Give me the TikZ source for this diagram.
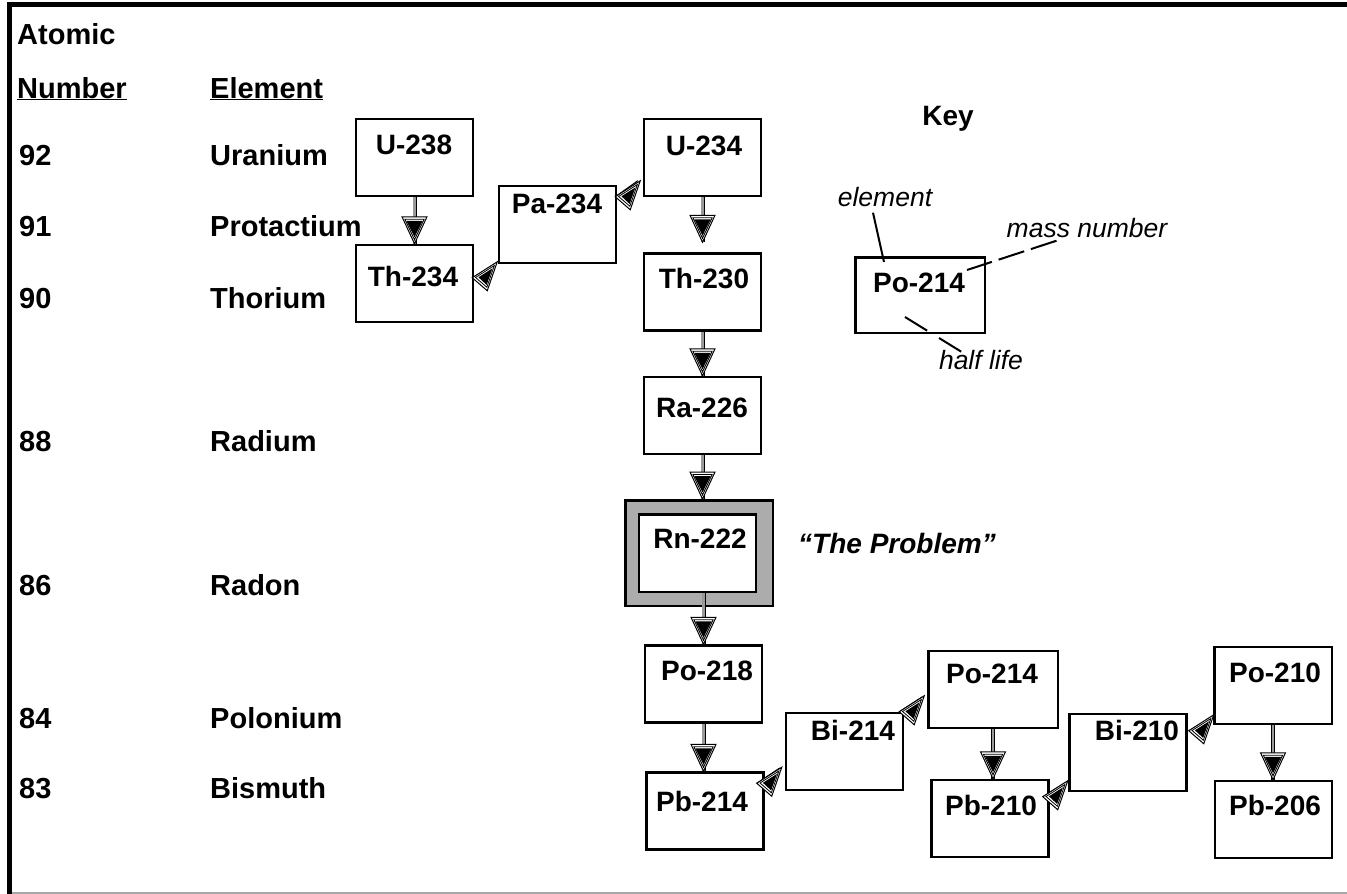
\documentclass[tikz,border=0pt]{standalone}
\usepackage{fontspec}
\setmainfont{Liberation Sans}
\usetikzlibrary{calc,decorations.markings}
\newcommand\decayhead[1]{%
  \begin{scope}[shift={(#1)}]
    \draw[line width=1pt, fill=white] (0,0) -- (25,-16) -- (15,13) -- cycle;
    \draw[line width=0.8pt] (3.3,-0.25) -- (22.1,-12.25) -- (14.6,9.5) -- cycle;
    \fill (6.2,-0.45) -- (20.2,-9.4) -- (14.4,7.2) -- cycle;
  \end{scope}}
\begin{document}
\begin{tikzpicture}[x=1pt,y=-1pt,
  box/.style={draw=black, line width=2.5pt, fill=white, minimum width=117pt, minimum height=77pt, inner sep=0pt},
  iso/.style={font=\fontsize{28}{30}\selectfont\bfseries, inner sep=0pt, text height=20.4pt, text depth=0pt},
  hdr/.style={font=\fontsize{29}{31}\selectfont\bfseries, anchor=west, inner sep=0pt, text height=21pt, text depth=0pt},
  keylbl/.style={font=\fontsize{26.5}{28}\selectfont\itshape, inner sep=0pt, text height=19pt, text depth=0pt},
  decay/.style={draw=black, line width=0.9pt, double=gray!80, double distance=2.2pt,
    postaction={decorate, decoration={markings, mark=at position 1 with {
      \draw[black, line width=1pt, fill=white] (0,0) -- (-27,12.5) -- (-27,-12.5) -- cycle;
      \draw[black, line width=0.9pt] (-4,0) -- (-24.5,9.6) -- (-24.5,-9.6) -- cycle;
      \fill[black] (-6.5,0) -- (-23,8.2) -- (-23,-8.2) -- cycle;}}}},
  decayd/.style={draw=black, line width=1pt},
  leader/.style={draw=black, line width=2pt}
]
\useasboundingbox (0,0) rectangle (1347,894);
% frame
\draw[line width=5pt] (7,4.5) -- (1347,4.5);
\draw[line width=5pt] (9.5,2) -- (9.5,894);
\draw[gray!70, line width=1.2pt] (12,893) -- (1347,893);

% headers
\node[hdr] (hatomic) at (17,34) {Atomic};
\node[hdr] (hnumber) at (17,87.5) {\underline{Number}};
\node[hdr] (helement) at (210,87.5) {\underline{Element}};
\node[hdr] (z92) at (19,155) {92};
\node[hdr] (e92) at (210,155) {Uranium};
\node[hdr] (z91) at (19,226) {91};
\node[hdr] (e91) at (210,226) {Protactium};
\node[hdr] (z90) at (19,298) {90};
\node[hdr] (e90) at (210,298) {Thorium};
\node[hdr] (z88) at (19,441) {88};
\node[hdr] (e88) at (210,441) {Radium};
\node[hdr] (z86) at (19,585) {86};
\node[hdr] (e86) at (210,585) {Radon};
\node[hdr] (z84) at (19,718) {84};
\node[hdr] (e84) at (210,718) {Polonium};
\node[hdr] (z83) at (19,788) {83};
\node[hdr] (e83) at (210,788) {Bismuth};

% boxes
\node[box] (u238) at (414.5,157.5) {};
\node[box] (th234) at (414.5,283.5) {};
\node[box] (pa234) at (557.5,224.5) {};
\node[box] (u234) at (702.5,157.5) {};
\node[box] (th230) at (702.5,292) {};
\node[box] (ra226) at (702.5,415.5) {};
\node[draw=black, line width=2.5pt, fill=gray!65, minimum width=147.5pt, minimum height=105.5pt, inner sep=0pt] (rn222) at (699,553) {};
\node[box, minimum height=77.5pt] (rn222in) at (697.5,553) {};
\node[box] (po218) at (703.5,684) {};
\node[box] (pb214) at (705,811) {};
\node[box] (bi214) at (844.5,751.5) {};
\node[box, minimum width=129.5pt] (po214) at (993,689.5) {};
\node[box] (pb210) at (990,818.5) {};
\node[box] (bi210) at (1128,752.5) {};
\node[box, minimum width=117.5pt] (po210) at (1273,685.5) {};
\node[box] (pb206) at (1273.5,819.5) {};
\node[box, minimum width=129.5pt, minimum height=75.5pt] (keybox) at (920,295) {};

% box labels
\node[iso] (tu238) at (414,144) {U-238};
\node[iso] (tth234) at (413,276) {Th-234};
\node[iso] (tpa234) at (557,203) {Pa-234};
\node[iso] (tu234) at (704,145) {U-234};
\node[iso] (tth230) at (704,278) {Th-230};
\node[iso] (tra226) at (702,407) {Ra-226};
\node[iso] (trn222) at (700,538) {Rn-222};
\node[iso] (tpo218) at (707,670) {Po-218};
\node[iso] (tpb214) at (702,801) {Pb-214};
\node[iso] (tbi214) at (853,730) {Bi-214};
\node[iso] (tpo214) at (992,673) {Po-214};
\node[iso] (tpb210) at (991,805) {Pb-210};
\node[iso] (tbi210) at (1137,730) {Bi-210};
\node[iso] (tpo210) at (1275,672) {Po-210};
\node[iso] (tpb206) at (1275,805) {Pb-206};
\node[iso] (tkey) at (919,282) {Po-214};

% vertical decays
\draw[decay] (u238.south) -- (u238.south |- th234.north);
\draw[decay] (u234.south) -- ([yshift=10pt]th230.north);
\draw[decay] (th230.south) -- (ra226.north);
\draw[decay] (ra226.south) -- (ra226.south |- rn222.north);
\draw[decay] (po218.north |- rn222in.south) -- (po218.north);
\draw[decay] (po218.south) -- (po218.south |- pb214.north);
\draw[decay] (po214.south) -- (po214.south |- pb210.north);
\draw[decay] (po210.south) -- (po210.south |- pb206.north);

% diagonal decays
\coordinate (d1s) at ($(u234.north west)+(-5,63)$);
\coordinate (d1t) at ($(pa234.north east)+(-2,12)$);
\coordinate (d2s) at ($(pa234.south west)+(-3,1)$);
\coordinate (d2t) at ($(th234.north east)+(-2,34)$);
\coordinate (d3s) at ($(po214.west)+(-5,7.5)$);
\coordinate (d3t) at ($(bi214.north east)+(-5,0)$);
\coordinate (d4s) at ($(bi214.west)+(-5,16.5)$);
\coordinate (d4t) at ($(pb214.north east)+(-8,12)$);
\coordinate (d5s) at ($(bi210.west)+(-2,29.5)$);
\coordinate (d5t) at ($(pb210.north east)+(-7,18)$);
\coordinate (d6s) at ($(po210.south west)+(-1,-8)$);
\coordinate (d6t) at ($(bi210.north east)+(1,18)$);
\foreach \i in {1,...,6} {
  \draw[decayd] (d\i s) -- (d\i t);
  \decayhead{d\i t}
}

% key
\node[iso] (key) at (948,115) {Key};
\node[keylbl] (kelement) at (885,197) {element};
\node[keylbl] (kmass) at (1087,228) {mass number};
\node[keylbl] (khalf) at (981,360) {half life};
\coordinate (celement) at (884,262);
\coordinate (cmass) at (967,270);
\coordinate (chalf) at (905,317);
\draw[leader] ($(kelement.south)+(-12,6)$) -- (celement);
\draw[leader, dash pattern=on 27pt off 7pt] ($(kmass.south west)+(50,3)$) -- (cmass);
\draw[leader, dash pattern=on 26pt off 14pt] (chalf) -- ($(khalf.north west)+(25,3)$);

\node[font=\fontsize{28}{30}\selectfont\bfseries\itshape, inner sep=0pt, text height=20.4pt, text depth=0pt] (problem) at (897,543) {“The Problem”};
\end{tikzpicture}
\end{document}
